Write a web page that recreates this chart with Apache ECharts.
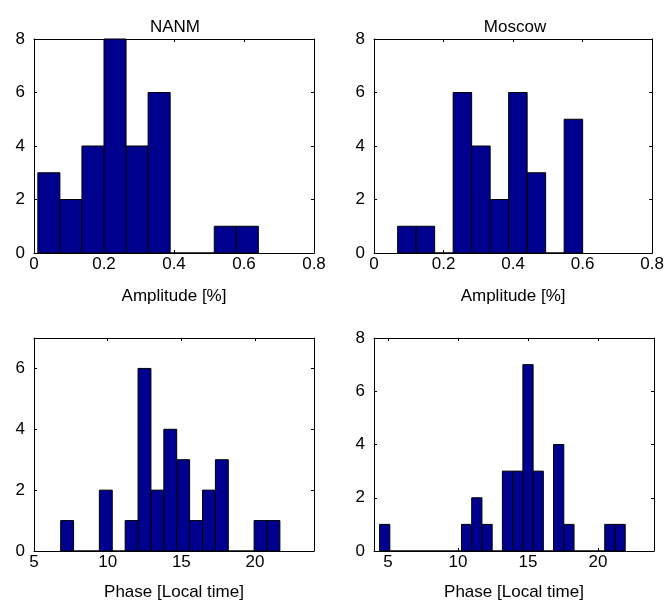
<!DOCTYPE html>
<html>
<head>
<meta charset="utf-8">
<script src="https://cdn.jsdelivr.net/npm/echarts@6/dist/echarts.min.js"></script>
<style>
  html, body { margin: 0; padding: 0; background: #fff; }
  #main { width: 667px; height: 602px; }
</style>
</head>
<body>
<div id="main"></div>
<script>
// histogram bins: first edge, bin width, counts per bin
const nanmAmpStart = 0.011, nanmAmpWidth = 0.063;
const nanmAmpCounts = [3, 2, 4, 8, 4, 6, 0, 0, 1, 1];
const moscowAmpStart = 0.068, moscowAmpWidth = 0.0532;
const moscowAmpCounts = [1, 1, 0, 6, 4, 2, 6, 3, 0, 5];
const nanmPhaseStart = 6.81, nanmPhaseWidth = 0.875;
const nanmPhaseCounts = [1, 0, 0, 2, 0, 1, 6, 2, 4, 3, 1, 2, 3, 0, 0, 1, 1];
const moscowPhaseStart = 4.40, moscowPhaseWidth = 0.731;
const moscowPhaseCounts = [1, 0, 0, 0, 0, 0, 0, 0, 1, 2, 1, 0, 3, 3, 7, 3, 0, 4, 1, 0, 0, 0, 1, 1];

// tick labels
const ampTicks = [0, 0.2, 0.4, 0.6, 0.8];
const phaseTicks = [5, 10, 15, 20];
const count8Ticks = [0, 2, 4, 6, 8];
const count7Ticks = [0, 2, 4, 6];

const titles = ['NANM', 'Moscow'];
const ampName = 'Amplitude [%]';
const phaseName = 'Phase [Local time]';

const FONT = '"Liberation Sans", Arial, Helvetica, sans-serif';
const FS = 17;

function bins(start, width, counts) {
  return counts.map((c, i) => [start + i * width, start + (i + 1) * width, c]);
}

const grids = [
  { left: 34, top: 39, width: 280, height: 214 },
  { left: 374, top: 39, width: 280, height: 214 },
  { left: 34, top: 338, width: 280, height: 214 },
  { left: 374, top: 338, width: 280, height: 214 }
];

const panels = [
  { data: bins(nanmAmpStart, nanmAmpWidth, nanmAmpCounts), xmin: 0, xmax: 0.8, xt: ampTicks, ymax: 8, yt: count8Ticks, name: ampName, gap: 35 },
  { data: bins(moscowAmpStart, moscowAmpWidth, moscowAmpCounts), xmin: 0, xmax: 0.8, xt: ampTicks, ymax: 8, yt: count8Ticks, name: ampName, gap: 35 },
  { data: bins(nanmPhaseStart, nanmPhaseWidth, nanmPhaseCounts), xmin: 5, xmax: 24, xt: phaseTicks, ymax: 7, yt: count7Ticks, name: phaseName, gap: 33 },
  { data: bins(moscowPhaseStart, moscowPhaseWidth, moscowPhaseCounts), xmin: 4, xmax: 24, xt: phaseTicks, ymax: 8, yt: count8Ticks, name: phaseName, gap: 33 }
];

const lineStyle = { color: '#000', width: 1 };
const xAxis = [], yAxis = [], series = [];

panels.forEach((p, i) => {
  // bottom and top x axes (top one only for the box + ticks)
  ['bottom', 'top'].forEach(pos => {
    xAxis.push({
      type: 'value', gridIndex: i, position: pos, min: p.xmin, max: p.xmax,
      name: pos === 'bottom' ? p.name : '', nameLocation: 'middle', nameGap: p.gap,
      nameTextStyle: { color: '#000', fontSize: FS, fontFamily: FONT },
      axisLine: { show: true, onZero: false, lineStyle: lineStyle },
      axisTick: { show: true, inside: true, length: 3, lineStyle: lineStyle, customValues: p.xt },
      axisLabel: { show: pos === 'bottom', color: '#000', fontSize: FS, fontFamily: FONT, margin: 3, customValues: p.xt },
      splitLine: { show: false }
    });
  });
  ['left', 'right'].forEach(pos => {
    yAxis.push({
      type: 'value', gridIndex: i, position: pos, min: 0, max: p.ymax,
      axisLine: { show: true, onZero: false, lineStyle: lineStyle },
      axisTick: { show: true, inside: true, length: 3, lineStyle: lineStyle, customValues: p.yt },
      axisLabel: { show: pos === 'left', color: '#000', fontSize: FS, fontFamily: FONT, margin: 9, customValues: p.yt },
      splitLine: { show: false }
    });
  });
  series.push({
    type: 'custom',
    xAxisIndex: i * 2,
    yAxisIndex: i * 2,
    data: p.data,
    encode: { x: [0, 1], y: 2 },
    renderItem: function (params, api) {
      const a = api.coord([api.value(0), 0]);
      const b = api.coord([api.value(1), api.value(2)]);
      return {
        type: 'rect',
        shape: { x: a[0], y: b[1], width: b[0] - a[0], height: a[1] - b[1] },
        style: { fill: '#00008f', stroke: '#000', lineWidth: 1 }
      };
    },
    silent: true,
    z: 1
  });
});

const chart = echarts.init(document.getElementById('main'));
chart.setOption({
  animation: false,
  backgroundColor: '#fff',
  title: titles.map((t, i) => ({
    text: t,
    left: grids[i].left + grids[i].width / 2 - 4,
    top: 14,
    textAlign: 'center',
    textStyle: { color: '#000', fontSize: FS, fontWeight: 'normal', fontFamily: FONT }
  })),
  grid: grids,
  xAxis: xAxis,
  yAxis: yAxis,
  series: series
});
</script>
</body>
</html>
